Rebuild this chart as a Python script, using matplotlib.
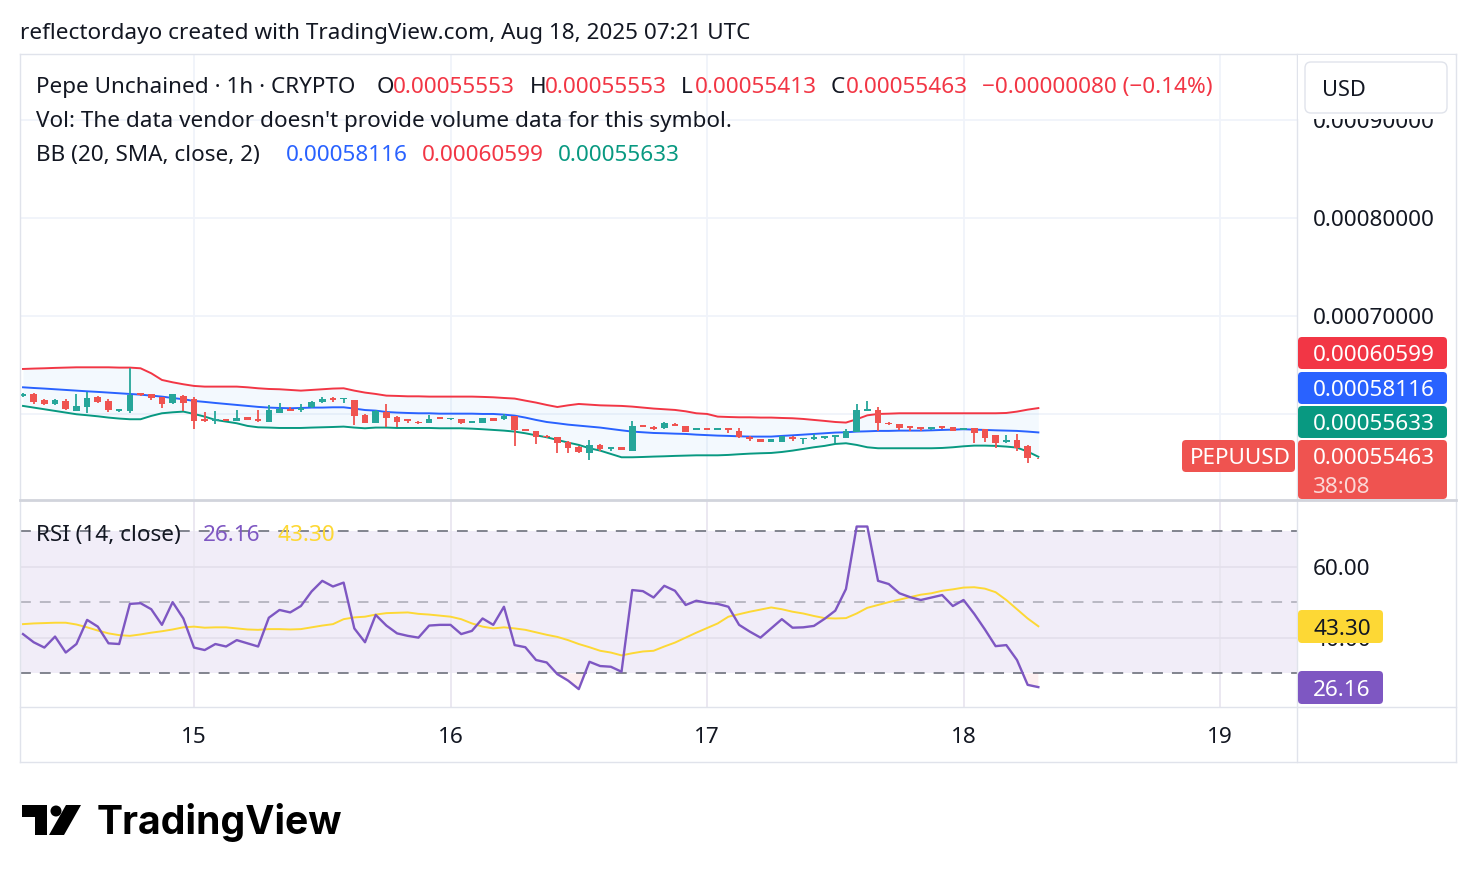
import numpy as np
import pandas as pd
import matplotlib
matplotlib.use("Agg")
import matplotlib.pyplot as plt
from matplotlib.patches import FancyBboxPatch, Polygon, Circle, Rectangle
from matplotlib.lines import Line2D
from matplotlib.transforms import blended_transform_factory, IdentityTransform

plt.rcParams['font.family'] = ['Noto Sans', 'DejaVu Sans']

# PEPU/USD 1h candles, Aug 14 08:00 -> Aug 18 07:00 UTC (prices in 1e-6 USD)
times = pd.date_range('2025-08-14 08:00', periods=96, freq='h')

opens = [618.4, 620.1, 614.3, 609.9, 613.3, 603.4, 607.5, 617.7, 613.6, 603.4,
         603.1, 621.1, 620.4, 617.0, 610.9, 618.7, 615.0, 594.9, 592.9, 594.9,
         593.2, 596.6, 594.9, 592.2, 601.4, 605.1, 604.1, 606.8, 611.9, 616.7,
         615.0, 614.3, 599.0, 591.2, 601.7, 597.3, 594.6, 592.2, 591.2, 596.6,
         594.6, 594.6, 591.2, 591.2, 595.6, 594.6, 598.0, 584.7, 582.7, 577.9,
         576.2, 571.1, 566.7, 560.5, 568.4, 564.3, 566.0, 562.6, 588.8, 587.1,
         585.4, 590.1, 587.8, 583.7, 585.4, 583.7, 585.4, 583.0, 576.9, 574.2,
         571.8, 571.8, 576.9, 574.2, 574.2, 575.9, 576.9, 575.9, 582.0, 603.4,
         604.1, 591.2, 589.8, 587.8, 586.4, 584.7, 587.8, 586.4, 583.7, 585.4,
         584.4, 578.6, 571.8, 573.5, 567.7, 555.53]
highs = [621.5, 621.1, 615.0, 615.3, 615.0, 620.1, 622.8, 618.4, 615.0, 605.5,
         646.6, 621.5, 620.8, 617.5, 620.8, 619.4, 617.0, 602.1, 603.1, 595.3,
         604.1, 597.0, 604.1, 609.2, 610.9, 606.8, 610.2, 613.0, 617.0, 617.7,
         616.3, 614.6, 599.7, 603.6, 610.2, 597.7, 595.0, 592.6, 599.0, 597.0,
         596.0, 595.0, 593.2, 596.0, 596.0, 600.0, 598.3, 585.0, 583.0, 578.3,
         576.5, 572.0, 567.0, 573.5, 569.0, 566.4, 566.4, 593.2, 589.1, 587.5,
         591.5, 590.5, 588.1, 585.7, 585.7, 585.7, 585.7, 585.4, 577.2, 574.5,
         574.5, 577.9, 577.2, 575.5, 579.6, 577.9, 578.9, 584.7, 610.2, 613.3,
         607.5, 591.5, 590.1, 588.1, 586.8, 586.8, 588.1, 586.8, 585.7, 585.7,
         584.7, 578.9, 578.6, 579.3, 568.0, 555.53]
lows = [617.7, 609.9, 609.2, 609.5, 604.1, 603.1, 601.4, 611.6, 602.1, 602.1,
        600.7, 618.4, 614.3, 605.8, 610.2, 603.1, 585.0, 592.2, 589.8, 592.6,
        592.9, 593.5, 592.2, 591.9, 601.0, 603.1, 602.4, 606.5, 611.6, 611.9,
        610.9, 588.8, 590.5, 590.5, 586.4, 587.1, 591.2, 590.1, 590.8, 594.6,
        594.2, 589.8, 590.5, 590.8, 592.9, 594.2, 567.7, 582.7, 569.1, 575.9,
        560.5, 560.5, 560.5, 553.1, 562.6, 562.6, 562.9, 562.3, 586.8, 584.0,
        585.0, 587.4, 581.6, 583.3, 583.3, 583.3, 580.3, 575.9, 572.5, 571.5,
        571.5, 571.5, 572.8, 569.1, 573.9, 574.2, 570.1, 575.5, 581.6, 603.1,
        583.0, 589.1, 583.7, 582.7, 582.7, 583.7, 585.0, 582.4, 583.3, 570.8,
        571.8, 565.7, 570.1, 562.3, 549.7, 554.13]
closes = [620.8, 612.6, 609.9, 614.3, 604.8, 608.2, 616.0, 612.6, 604.1, 605.1,
          619.4, 619.1, 616.0, 609.9, 620.1, 611.6, 593.2, 592.9, 594.6, 593.2,
          595.9, 593.9, 592.9, 604.1, 605.5, 603.4, 606.5, 612.6, 615.7, 614.3,
          616.0, 598.3, 591.2, 603.1, 596.3, 592.2, 592.9, 590.5, 594.6, 594.9,
          595.6, 591.2, 592.9, 595.6, 593.2, 598.3, 583.7, 583.0, 576.9, 576.2,
          570.1, 565.7, 560.9, 568.4, 564.3, 566.0, 563.3, 588.1, 587.1, 584.4,
          590.5, 587.8, 582.0, 585.4, 583.7, 585.4, 583.7, 576.2, 574.2, 571.8,
          574.2, 577.6, 574.2, 575.2, 576.2, 577.6, 578.6, 583.0, 604.1, 604.8,
          590.5, 589.5, 585.4, 586.1, 584.7, 586.4, 585.4, 582.7, 585.4, 581.0,
          575.9, 570.1, 573.5, 565.0, 555.43, 554.63]

# Bollinger Bands (20, SMA, close, 2), 1e-6 USD
bb_upper = [645.9, 646.3, 646.6, 647.0, 647.3, 647.6, 647.6, 647.6, 647.6, 647.3,
            647.3, 646.6, 641.5, 634.7, 632.3, 630.3, 628.6, 627.9, 627.9, 627.9,
            627.9, 627.2, 626.2, 625.5, 625.2, 624.5, 623.8, 624.5, 625.2, 625.9,
            626.2, 623.8, 621.8, 620.4, 618.7, 618.4, 618.0, 618.0, 617.7, 617.7,
            617.7, 617.7, 617.7, 617.4, 617.0, 616.3, 615.7, 613.6, 611.6, 609.2,
            607.1, 608.8, 610.2, 609.5, 608.8, 608.5, 608.2, 607.5, 606.5, 605.5,
            604.8, 604.1, 602.7, 600.7, 600.0, 597.3, 596.9, 596.6, 596.6, 596.3,
            596.3, 595.9, 595.6, 594.9, 593.9, 592.9, 591.8, 591.2, 594.6, 598.6,
            600.0, 600.3, 600.7, 600.7, 600.7, 600.7, 600.7, 600.7, 600.7, 600.7,
            600.7, 600.7, 601.0, 602.4, 604.4, 605.99]
bb_basis = [627.2, 626.5, 625.9, 625.2, 624.5, 623.8, 623.1, 622.5, 621.8, 621.1,
            620.4, 619.7, 618.7, 617.7, 616.3, 615.0, 613.3, 612.3, 611.2, 610.2,
            609.2, 608.2, 607.2, 606.5, 606.1, 605.8, 606.1, 606.5, 606.5, 606.8,
            606.8, 605.5, 604.0, 603.4, 602.0, 601.4, 601.0, 600.7, 600.7, 600.3,
            600.3, 600.3, 600.3, 600.0, 600.0, 599.3, 598.3, 596.3, 593.9, 591.8,
            590.5, 589.1, 588.1, 587.1, 586.1, 584.7, 583.3, 582.0, 581.3, 580.6,
            580.3, 579.9, 579.6, 578.9, 578.4, 577.9, 577.6, 577.2, 576.9, 576.9,
            576.9, 577.6, 578.2, 578.9, 579.6, 580.3, 581.0, 581.3, 582.0, 582.3,
            582.7, 582.7, 583.0, 583.0, 583.0, 583.3, 583.7, 584.0, 584.4, 584.0,
            583.7, 583.3, 583.0, 582.7, 582.0, 581.16]
bb_lower = [608.2, 606.5, 604.8, 603.1, 601.4, 599.7, 598.7, 597.6, 596.3, 595.3,
            594.6, 594.6, 598.0, 600.7, 601.7, 602.4, 600.0, 597.3, 593.9, 592.2,
            590.5, 587.8, 586.4, 586.1, 585.7, 585.7, 585.7, 586.1, 586.4, 586.7,
            587.1, 586.1, 585.4, 586.1, 586.1, 585.7, 585.7, 585.7, 585.7, 585.4,
            585.4, 585.4, 585.0, 584.4, 583.7, 583.0, 582.0, 580.3, 578.2, 576.2,
            573.5, 570.8, 568.4, 565.0, 562.6, 559.2, 555.8, 555.8, 556.1, 556.5,
            556.8, 557.2, 557.5, 557.8, 557.8, 557.8, 558.2, 558.9, 559.5, 559.9,
            560.2, 561.2, 562.6, 564.3, 566.0, 567.4, 569.4, 570.1, 568.4, 566.0,
            565.0, 565.0, 565.0, 565.0, 565.0, 565.0, 565.3, 566.0, 567.0, 567.7,
            567.7, 567.4, 566.7, 565.7, 561.6, 556.33]

# RSI (14, close) and its moving average
rsi = [41.1, 38.8, 37.3, 40.4, 35.9, 38.3, 45.1, 43.2, 38.5, 38.3,
       49.6, 49.8, 48.1, 43.7, 50.1, 45.5, 37.3, 36.6, 38.3, 37.6,
       39.4, 38.5, 37.6, 45.7, 47.9, 47.2, 49.0, 53.1, 56.1, 54.5,
       55.6, 42.7, 38.8, 46.5, 43.5, 41.3, 40.6, 40.1, 43.5, 43.7,
       43.7, 41.1, 42.0, 45.5, 43.7, 48.8, 38.0, 37.4, 33.8, 33.1,
       29.8, 28.0, 25.6, 33.3, 32.1, 31.9, 30.5, 53.5, 53.2, 51.4,
       54.7, 53.3, 49.3, 50.5, 49.9, 49.6, 48.8, 43.7, 41.8, 40.1,
       42.7, 45.3, 42.9, 43.0, 43.4, 45.4, 47.7, 53.8, 71.4, 71.4,
       56.1, 55.2, 52.6, 51.5, 50.7, 51.4, 52.1, 49.0, 50.7, 46.8,
       42.4, 37.7, 38.0, 33.8, 26.8, 26.16]
rsi_ma = [43.9, 44.1, 44.2, 44.3, 44.3, 43.8, 43.0, 42.1, 41.3, 40.8,
          40.6, 41.0, 41.5, 41.9, 42.4, 43.0, 43.2, 42.9, 43.0, 43.0,
          42.7, 42.4, 42.3, 42.5, 42.5, 42.4, 42.5, 43.0, 43.5, 43.9,
          45.3, 45.8, 46.0, 46.6, 47.0, 47.1, 47.2, 46.8, 46.6, 46.3,
          46.0, 45.3, 44.1, 43.2, 42.7, 43.0, 42.7, 42.3, 41.6, 40.9,
          40.3, 39.4, 38.3, 37.4, 36.4, 35.9, 35.1, 35.7, 36.2, 36.4,
          37.6, 38.7, 40.1, 41.5, 42.8, 44.1, 46.0, 46.7, 47.4, 48.0,
          48.6, 48.1, 47.4, 46.9, 46.2, 45.6, 45.5, 45.6, 46.9, 48.5,
          49.3, 50.1, 50.8, 51.5, 52.2, 52.6, 53.3, 53.7, 54.2, 54.3,
          53.9, 52.9, 50.7, 48.1, 45.5, 43.30]

price_ticks = [0.0009, 0.0008, 0.0007]
rsi_ticks = [60, 40]
day_ticks = pd.date_range('2025-08-15', periods=5, freq='D')

o = np.array(opens) * 1e-6
h = np.array(highs) * 1e-6
l = np.array(lows) * 1e-6
c = np.array(closes) * 1e-6
up_b = np.array(bb_upper) * 1e-6
mid_b = np.array(bb_basis) * 1e-6
lo_b = np.array(bb_lower) * 1e-6
rsi = np.array(rsi)
rsi_ma = np.array(rsi_ma)

t0 = pd.Timestamp('2025-08-14')
x = ((times - t0) / pd.Timedelta(hours=1)).to_numpy()
xd = ((day_ticks - t0) / pd.Timedelta(hours=1)).to_numpy()

DARK = '#131722'
GREEN = '#26a69a'
RED = '#ef5350'
FS = 16.2
BORDER = '#e0e3eb'
GRID = '#f0f3fa'

W, H = 1476, 882
fig = plt.figure(figsize=(W / 100, H / 100), dpi=100)
fig.patch.set_facecolor('white')


def ftext(px, py, s, **kw):
    kw.setdefault('va', 'center_baseline')
    kw.setdefault('fontsize', FS)
    kw.setdefault('color', DARK)
    return fig.text(px / W, 1 - py / H, s, **kw)


def fbox(x0, y0, x1, y1, fc, ec='none', r=4, z=5):
    p = FancyBboxPatch((x0, H - y1), x1 - x0, y1 - y0,
                       boxstyle='round,pad=0,rounding_size=%g' % r,
                       transform=IdentityTransform(), fc=fc, ec=ec, lw=1, zorder=z)
    fig.add_artist(p)


def fline(x0, y0, x1, y1, color=BORDER, lw=1.0):
    fig.add_artist(Line2D([x0 / W, x1 / W], [1 - y0 / H, 1 - y1 / H],
                          color=color, lw=lw, transform=fig.transFigure, zorder=3))


xlim = (7.72, 127.2)

# ---- price pane ----
ax = fig.add_axes([20 / W, 1 - 500 / H, 1277 / W, 446 / H])
ax.set_xlim(*xlim)
ax.set_ylim(512.2e-6, 967.3e-6)
ax.axis('off')
for d in xd:
    ax.axvline(d, color=GRID, lw=1.3, zorder=0)
for p in [0.0009, 0.0008, 0.0007, 0.0006]:
    ax.axhline(p, color=GRID, lw=1.3, zorder=0)

ax.fill_between(x, lo_b, up_b, color='#2196f3', alpha=0.05, lw=0, zorder=1)
ax.plot(x, up_b, color='#f23645', lw=1.4, zorder=2)
ax.plot(x, mid_b, color='#2962ff', lw=1.4, zorder=2)
ax.plot(x, lo_b, color='#089981', lw=1.4, zorder=2)

cols = np.where(c >= o, GREEN, RED)
ax.vlines(x, l, h, colors=cols, lw=1.3, zorder=3)
body = np.maximum(np.abs(c - o), 0.9e-6)
bottom = np.minimum(o, c) - (body - np.abs(c - o)) / 2
ax.bar(x, body, bottom=bottom, width=0.62, color=cols, lw=0, zorder=4)

tr = blended_transform_factory(fig.transFigure, ax.transData)
for p in price_ticks:
    ax.text(1313 / W, p, '%.8f' % p, transform=tr, va='center_baseline', fontsize=FS,
            color=DARK, clip_on=False)

# ---- RSI pane ----
ax2 = fig.add_axes([20 / W, 1 - 707 / H, 1277 / W, 207 / H])
ax2.set_xlim(*xlim)
ax2.set_ylim(20.56, 78.87)
ax2.axis('off')
ax2.axhspan(30, 70, color='#7e57c2', alpha=0.1, lw=0, zorder=0)
for d in xd:
    ax2.axvline(d, color='#e9e6f0', lw=1.3, zorder=0)
for v in rsi_ticks:
    ax2.axhline(v, color='#e4e0ec', lw=1.3, zorder=0)
ax2.axhline(70, color='#787b86', lw=1.3, dashes=(6, 5), zorder=1)
ax2.axhline(30, color='#787b86', lw=1.3, dashes=(6, 5), zorder=1)
ax2.axhline(50, color='#787b86', lw=1.3, dashes=(6, 5), alpha=0.5, zorder=1)
ax2.fill_between(x, rsi, 30, where=rsi < 30, interpolate=True,
                 color='#f23645', alpha=0.08, lw=0)
ax2.plot(x, rsi_ma, color='#fdd835', lw=1.4, zorder=3)
ax2.plot(x, rsi, color='#7e57c2', lw=1.7, zorder=4)

tr2 = blended_transform_factory(fig.transFigure, ax2.transData)
for v in rsi_ticks:
    ax2.text(1313 / W, v, '%.2f' % v, transform=tr2, va='center_baseline', fontsize=FS,
             color=DARK, clip_on=False)

# day labels
trx = blended_transform_factory(ax2.transData, fig.transFigure)
for d, dt in zip(xd, day_ticks):
    ax2.text(d, 1 - 735 / H, str(dt.day), transform=trx, ha='center',
             va='center_baseline', fontsize=FS, color=DARK, clip_on=False,
             fontweight='bold' if dt.day == 18 else 'normal')

# ---- frame ----
fline(20, 54, 1456, 54)
fline(20, 762, 1456, 762)
fline(20, 54, 20, 762)
fline(1456, 54, 1456, 762)
fline(1297, 54, 1297, 762)
fline(20, 500, 1456, 500, color='#d1d4dc', lw=2)
fline(20, 707, 1456, 707)

# ---- header ----
ftext(20, 31, 'reflectordayo created with TradingView.com, Aug 18, 2025 07:21 UTC')

chg = c[-1] - c[-2]
pct = chg / c[-2] * 100
ftext(36, 85, 'Pepe Unchained · 1h · CRYPTO')
for lab, val, xl, xv in [('O', o[-1], 377, 393), ('H', h[-1], 530, 545),
                         ('L', l[-1], 681, 695), ('C', c[-1], 831, 846)]:
    ftext(xl, 85, lab)
    ftext(xv, 85, '%.8f' % val, color='#f23645')
ftext(982, 85, ('%.8f (%.2f%%)' % (chg, pct)).replace('-', '\u2212'), color='#f23645')
ftext(36, 119, "Vol: The data vendor doesn't provide volume data for this symbol.")
ftext(36, 153, 'BB (20, SMA, close, 2)')
ftext(286, 153, '%.8f' % mid_b[-1], color='#2962ff')
ftext(422, 153, '%.8f' % up_b[-1], color='#f23645')
ftext(558, 153, '%.8f' % lo_b[-1], color='#089981')

ftext(36, 533, 'RSI (14, close)', zorder=0)
ftext(203, 533, '%.2f' % rsi[-1], color='#7e57c2')
ftext(277, 533, '%.2f' % rsi_ma[-1], color='#fdd835')

# ---- right scale boxes ----
fig.add_artist(Rectangle((1298, H - 119), 157, 64, transform=IdentityTransform(),
                         fc='white', ec='none', zorder=4))
fbox(1305, 62, 1447, 113, 'white', ec=BORDER, r=6)
ftext(1322, 88, 'USD', fontsize=FS - 0.5, zorder=6)

fbox(1298, 337, 1447, 369, '#f23645')
ftext(1313, 353, '%.8f' % up_b[-1], color='white', zorder=6)
fbox(1298, 372, 1447, 404, '#2962ff')
ftext(1313, 388, '%.8f' % mid_b[-1], color='white', zorder=6)
fbox(1298, 406, 1447, 438, '#089981')
ftext(1313, 422, '%.8f' % lo_b[-1], color='white', zorder=6)
fbox(1298, 440, 1447, 499, RED)
ftext(1313, 456, '%.8f' % c[-1], color='white', zorder=6)
ftext(1313, 485, '38:08', color='#fbd7d6', zorder=6)
fbox(1182, 440, 1295, 472, RED)
ftext(1190, 456, 'PEPUUSD', color='white', zorder=6)

fbox(1298, 610, 1383, 643, '#fdd835')
ftext(1313, 627, '%.2f' % rsi_ma[-1], color=DARK, zorder=6)
fbox(1298, 671, 1383, 704, '#7e57c2')
ftext(1313, 688, '%.2f' % rsi[-1], color='white', zorder=6)

# ---- TradingView logo ----
fig.add_artist(Polygon([(22, H - 805), (47, H - 805), (47, H - 835), (35, H - 835),
                        (35, H - 817), (22, H - 817)], closed=True,
                       transform=IdentityTransform(), fc='black', ec='none'))
fig.add_artist(Circle((56, H - 811), 5.5, transform=IdentityTransform(), fc='black', ec='none'))
fig.add_artist(Polygon([(66, H - 805), (81, H - 805), (64, H - 835), (49, H - 835)],
                       closed=True, transform=IdentityTransform(), fc='black', ec='none'))
ftext(97, 822, 'TradingView', fontsize=28.2, fontweight='bold', color='black',
      family=['Inter', 'DejaVu Sans'], va='center')

fig.savefig('out.png', dpi=100, facecolor='white')
